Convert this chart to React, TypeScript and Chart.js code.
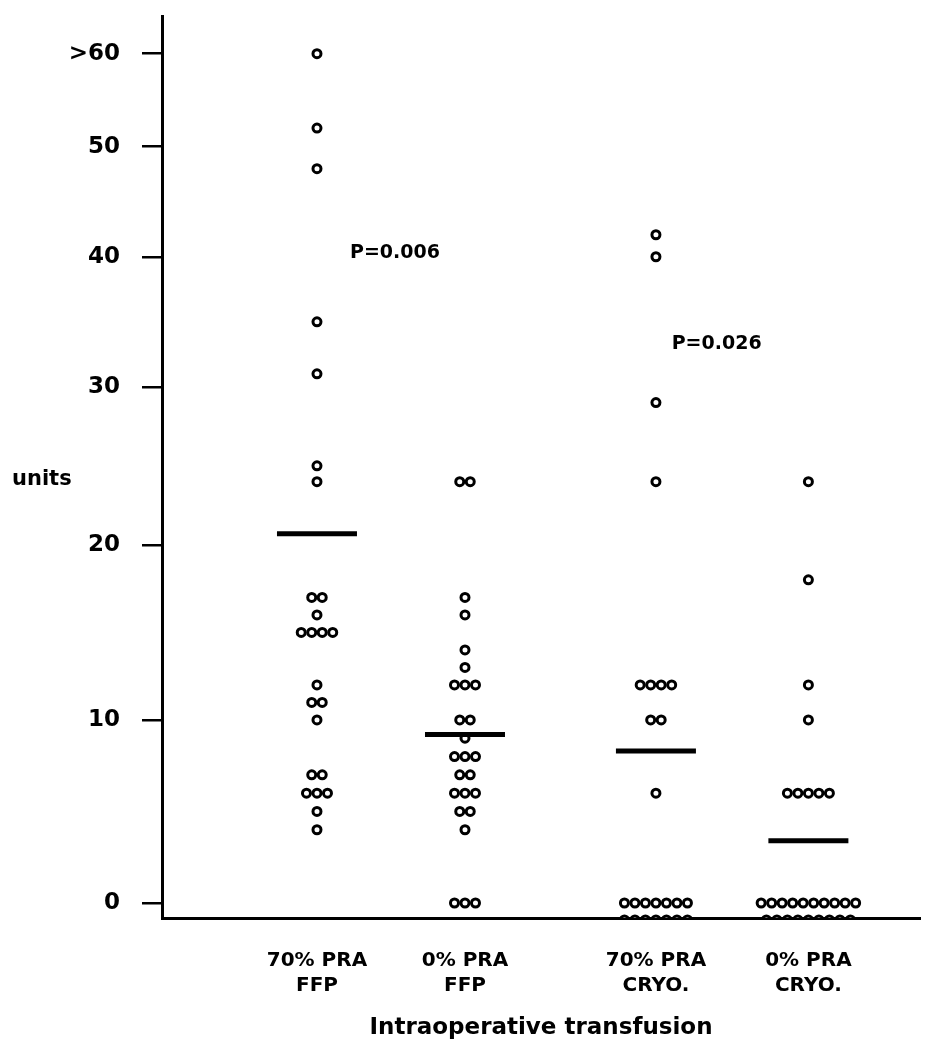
import React, { useEffect, useRef } from 'react';
import { Chart, registerables, LinearScale } from 'chart.js';

// ---------------- data ----------------
const GROUP_LABELS = [
  ['70% PRA', 'FFP'],
  ['0% PRA', 'FFP'],
  ['70% PRA', 'CRYO.'],
  ['0% PRA', 'CRYO.'],
];
const GROUP_X = [1, 2, 3.29, 4.32];

const FFP_70PRA = [60, 52, 48, 35, 31, 25, 24, 17, 17, 16, 15, 15, 15, 15, 12, 11, 11, 10, 7, 7, 6, 6, 6, 5, 4];
const FFP_0PRA = [24, 24, 17, 16, 14, 13, 12, 12, 12, 10, 10, 9, 8, 8, 8, 7, 7, 6, 6, 6, 5, 5, 4, 0, 0, 0];
const CRYO_70PRA = [42, 40, 29, 24, 12, 12, 12, 12, 10, 10, 6, 0, 0, 0, 0, 0, 0, 0, 0, 0, 0, 0, 0, 0, 0];
const CRYO_0PRA = [24, 18, 12, 10, 6, 6, 6, 6, 6, 0, 0, 0, 0, 0, 0, 0, 0, 0, 0, 0, 0, 0, 0, 0, 0, 0, 0, 0];
const GROUP_MEANS = [20.7, 9.2, 8.3, 3.4];

const Y_TICK_VALUES = [0, 10, 20, 30, 40, 50, 60];
const Y_TICK_LABELS = ['0', '10', '20', '30', '40', '50', '>60'];
const Y_TITLE = 'units';
const X_TITLE = 'Intraoperative transfusion';

const P_TEXTS = ['P=0.006', 'P=0.026'];
const P_X = [1.527, 3.7];
const P_Y = [40.3, 33.3];

// ---------------- scale with unequal bands (compressed upper range) ----------------
const BAND_HEIGHTS = [183, 175, 158, 130, 110, 93];

class BandedScale extends LinearScale {
  static id = 'banded';
  static defaults = {};
  _warp(v: number): number {
    const br = (this.options as any).breaks as number[];
    const h = (this.options as any).bandHeights as number[];
    if (v <= br[0]) return ((v - br[0]) * h[0]) / (br[1] - br[0]);
    let acc = 0;
    for (let i = 0; i < h.length; i++) {
      const a = br[i], b = br[i + 1];
      if (v <= b || i === h.length - 1) return acc + ((v - a) * h[i]) / (b - a);
      acc += h[i];
    }
    return acc;
  }
  _unwarp(p: number): number {
    const br = (this.options as any).breaks as number[];
    const h = (this.options as any).bandHeights as number[];
    if (p <= 0) return br[0] + (p * (br[1] - br[0])) / h[0];
    let acc = 0;
    for (let i = 0; i < h.length; i++) {
      if (p <= acc + h[i] || i === h.length - 1) return br[i] + ((p - acc) * (br[i + 1] - br[i])) / h[i];
      acc += h[i];
    }
    return br[br.length - 1];
  }
  getPixelForValue(v: number): number {
    const lo = this._warp(this.min), hi = this._warp(this.max);
    return this.getPixelForDecimal((this._warp(v) - lo) / (hi - lo));
  }
  getValueForPixel(px: number): number {
    const lo = this._warp(this.min), hi = this._warp(this.max);
    return this._unwarp(lo + this.getDecimalForPixel(px) * (hi - lo));
  }
}

Chart.register(...registerables, BandedScale as any);

// ---------------- layout of dots (side by side when tied) ----------------
const GROUP_VALUES = [FFP_70PRA, FFP_0PRA, CRYO_70PRA, CRYO_0PRA];
function buildDots() {
  const pts: any[] = [];
  GROUP_VALUES.forEach((vals, g) => {
    const counts = new Map<number, number>();
    vals.forEach((v) => counts.set(v, (counts.get(v) || 0) + 1));
    const seen = new Map<number, number>();
    vals.forEach((v) => {
      const n = counts.get(v) as number;
      const k = seen.get(v) || 0;
      seen.set(v, k + 1);
      const rows = Math.ceil(n / 10);
      const perRow = Math.ceil(n / rows);
      const row = Math.floor(k / perRow);
      const inRow = Math.min(perRow, n - row * perRow);
      const col = k - row * perRow - (inRow - 1) / 2;
      pts.push({ x: GROUP_X[g], y: v, col, row });
    });
  });
  return pts;
}

const FONT = 'DejaVu Sans';

const dodgePlugin = {
  id: 'dodge',
  afterDatasetsUpdate(chart: any) {
    chart.data.datasets.forEach((ds: any, di: number) => {
      if (!ds.dodgeStep) return;
      const meta = chart.getDatasetMeta(di);
      meta.data.forEach((el: any, i: number) => {
        const d = ds.data[i];
        el.x += d.col * ds.dodgeStep;
        el.y += d.row * ds.rowStep;
      });
    });
  },
};

const textPlugin = {
  id: 'texts',
  afterDraw(chart: any) {
    const { ctx, chartArea } = chart;
    const xs = chart.scales.x, ys = chart.scales.y;
    ctx.save();
    ctx.fillStyle = '#000';
    ctx.textBaseline = 'middle';
    ctx.textAlign = 'center';
    ctx.font = `bold 19px "${FONT}"`;
    P_TEXTS.forEach((t, i) => ctx.fillText(t, xs.getPixelForValue(P_X[i]), ys.getPixelForValue(P_Y[i])));
    ctx.textAlign = 'left';
    ctx.font = `bold 21px "${FONT}"`;
    ctx.fillText(Y_TITLE, ys.left + 4, chartArea.top + (chartArea.bottom - chartArea.top) * 0.514);
    ctx.restore();
  },
};

export default function App() {
  const ref = useRef<HTMLCanvasElement | null>(null);
  useEffect(() => {
    if (!ref.current) return;
    const chart = new Chart(ref.current, {
      type: 'scatter',
      data: {
        datasets: [
          {
            label: 'mean',
            data: GROUP_MEANS.map((m, i) => ({ x: GROUP_X[i], y: m })),
            pointStyle: 'line',
            pointRadius: 40,
            pointHoverRadius: 40,
            pointBorderWidth: 5,
            borderWidth: 5,
            pointBorderColor: '#000',
            borderColor: '#000',
          } as any,
          {
            label: 'patients',
            data: buildDots(),
            dodgeStep: 10.5,
            rowStep: 17,
            pointStyle: 'circle',
            pointRadius: 4,
            pointHoverRadius: 4,
            pointBorderWidth: 3,
            borderWidth: 3,
            pointBorderColor: '#000',
            borderColor: '#000',
            pointBackgroundColor: '#fff',
            backgroundColor: '#fff',
          } as any,
        ],
      },
      options: {
        animation: false,
        responsive: true,
        maintainAspectRatio: false,
        events: [],
        layout: { autoPadding: false, padding: { top: 8, right: 11, left: 0, bottom: 0 } },
        plugins: { legend: { display: false }, tooltip: { enabled: false } },
        scales: {
          x: {
            type: 'linear',
            min: -0.047,
            max: 5.074,
            afterBuildTicks: (s: any) => {
              s.ticks = GROUP_X.map((v) => ({ value: v }));
            },
            ticks: {
              callback: (_v: any, i: number) => GROUP_LABELS[i],
              autoSkip: false,
              maxRotation: 0,
              minRotation: 0,
              color: '#000',
              padding: 30,
              font: { family: FONT, weight: 'bold', size: 20, lineHeight: 1.25 },
            },
            grid: { display: false, drawTicks: false, drawOnChartArea: false },
            border: { display: true, color: '#000', width: 3 },
            title: {
              display: true,
              text: X_TITLE,
              color: '#000',
              font: { family: FONT, weight: 'bold', size: 23 },
              padding: { top: 0, bottom: 0 },
            },
            afterFit: (s: any) => {
              s.height = 124;
              s.paddingLeft = 0;
              s.paddingRight = 0;
            },
          } as any,
          y: {
            type: 'banded',
            min: -0.82,
            max: 64.05,
            breaks: Y_TICK_VALUES,
            bandHeights: BAND_HEIGHTS,
            afterBuildTicks: (s: any) => {
              s.ticks = Y_TICK_VALUES.map((v) => ({ value: v }));
            },
            ticks: {
              callback: (_v: any, i: number) => Y_TICK_LABELS[i],
              color: '#000',
              padding: 22,
              font: { family: FONT, weight: 'bold', size: 23 },
            },
            grid: {
              drawOnChartArea: false,
              drawTicks: true,
              tickLength: 20,
              tickWidth: 2.5,
              tickColor: '#000',
              color: '#000',
              lineWidth: 2.5,
            },
            border: { display: true, color: '#000', width: 3 },
            afterFit: (s: any) => {
              s.width = 154;
              s.paddingTop = 0;
              s.paddingBottom = 0;
            },
          } as any,
        },
      },
      plugins: [dodgePlugin, textPlugin],
    } as any);
    return () => chart.destroy();
  }, []);
  return (
    <div style={{ position: 'relative', width: 923, height: 1034 }}>
      <canvas ref={ref} />
    </div>
  );
}
